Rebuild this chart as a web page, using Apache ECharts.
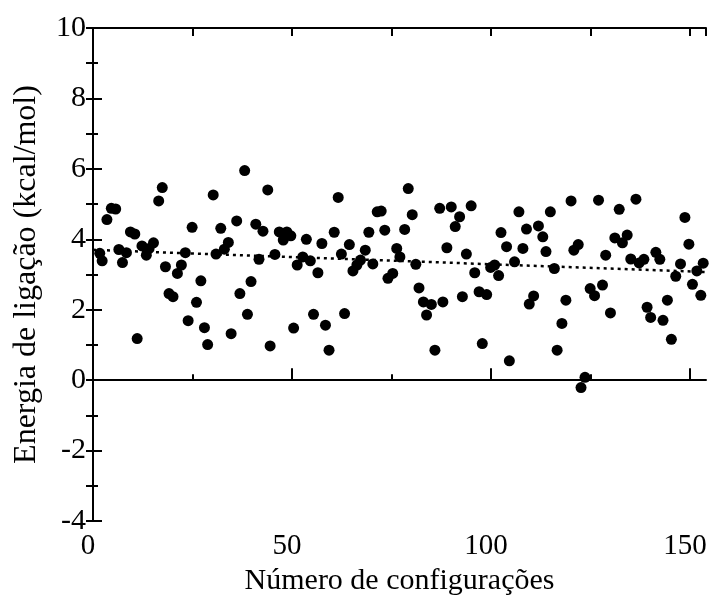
<!DOCTYPE html>
<html>
<head>
<meta charset="utf-8">
<script src="https://cdn.jsdelivr.net/npm/echarts@6/dist/echarts.min.js"></script>
<style>html,body{margin:0;padding:0;background:#fff;}#c{width:710px;height:598px;}</style>
</head>
<body>
<div id="c"></div>
<script>
// Data
const configX = [1.7,2.3,3.5,4.6,5.7,6.5,7.4,8.4,9.4,10.5,11.1,12.3,13.4,14.1,15.2,16.5,17.4,18.2,19.1,20.1,21.2,22.2,23.2,23.9,24.9,26.0,27.1,28.0,28.8,30.2,30.9,32.1,33.0,34.0,34.7,36.1,36.9,38.1,38.8,39.7,40.9,41.7,42.7,43.9,44.5,45.7,46.8,47.8,48.7,49.7,50.4,51.3,52.7,53.6,54.6,55.4,56.5,57.5,58.4,59.3,60.6,61.6,62.4,63.2,64.4,65.3,66.3,67.2,68.4,69.3,70.3,71.4,72.4,73.3,74.1,75.3,76.3,77.1,78.3,79.2,80.2,81.1,81.9,83.0,83.8,85.0,85.9,87.1,87.9,88.9,90.0,91.0,92.1,92.8,93.8,95.0,95.9,97.0,97.8,98.9,99.9,100.9,101.9,102.5,103.9,104.6,105.9,107.0,108.0,108.9,109.6,110.7,111.9,113.0,113.8,114.9,115.9,116.6,117.8,118.8,120.1,120.8,121.9,122.6,123.6,124.9,126.0,127.0,128.0,128.8,130.0,131.1,132.2,133.0,134.2,135.1,136.4,137.2,138.4,139.2,140.1,141.4,142.4,143.2,144.3,145.3,146.4,147.6,148.7,149.7,150.6,151.7,152.7,153.3];
const energy = [3.60,3.39,4.56,4.88,4.86,3.71,3.34,3.62,4.21,4.15,1.18,3.81,3.55,3.74,3.90,5.09,5.47,3.22,2.46,2.37,3.03,3.27,3.62,1.69,4.34,2.21,2.82,1.49,1.01,5.26,3.58,4.31,3.72,3.91,1.32,4.52,2.46,5.95,1.87,2.80,4.43,3.43,4.23,5.40,0.97,3.57,4.21,3.98,4.21,4.10,1.48,3.27,3.50,4.00,3.39,1.87,3.05,3.88,1.56,0.85,4.20,5.19,3.58,1.89,3.85,3.10,3.27,3.41,3.69,4.20,3.30,4.78,4.80,4.26,2.89,3.03,3.74,3.50,4.28,5.44,4.70,3.29,2.62,2.22,1.85,2.15,0.85,4.88,2.22,3.76,4.92,4.36,4.64,2.37,3.58,4.95,3.05,2.51,1.04,2.43,3.20,3.27,2.97,4.19,3.79,0.55,3.36,4.78,3.74,4.29,2.16,2.39,4.38,4.07,3.65,4.78,3.17,0.85,1.61,2.27,5.09,3.69,3.85,-0.21,0.08,2.60,2.40,5.11,2.70,3.55,1.91,4.04,4.85,3.90,4.12,3.44,5.14,3.33,3.43,2.07,1.78,3.63,3.43,1.70,2.27,1.16,2.95,3.30,4.62,3.86,2.72,3.10,2.41,3.32];
const trendX = [0, 154];
const trendY = [3.70, 3.07];
const xTickLabels = [0, 50, 100, 150];
const xMinorTicks = [25, 75, 125];
const xMin = 0, xMax = 154;
const yMin = -4, yMax = 10;

const font = "'Liberation Serif','Times New Roman',serif";
const points = configX.map((x, i) => [x, energy[i]]);
const trend = trendX.map((x, i) => [x, trendY[i]]);
const black = '#000';

const chart = echarts.init(document.getElementById('c'), null, {renderer: 'canvas'});
chart.setOption({
  backgroundColor: '#fff',
  animation: false,
  grid: {left: 93, right: 4, top: 28, bottom: 77, containLabel: false, outerBoundsMode: 'none'},
  xAxis: [
    {
      type: 'value', position: 'bottom', min: xMin, max: xMax,
      axisLine: {show: true, lineStyle: {color: black, width: 2}},
      axisTick: {show: true, inside: true, length: 12, lineStyle: {color: black, width: 2}, customValues: xTickLabels},
      axisLabel: {color: black, fontFamily: font, fontSize: 29, margin: 11, padding: [0, 10, 0, 0], customValues: xTickLabels},
      splitLine: {show: false},
      name: 'Número de configurações', nameLocation: 'middle', nameGap: 44,
      nameTextStyle: {color: black, fontFamily: font, fontSize: 30}
    },
    {
      type: 'value', position: 'bottom', min: xMin, max: xMax,
      axisLine: {show: false},
      axisTick: {show: true, inside: true, length: 6, lineStyle: {color: black, width: 2}, customValues: xMinorTicks},
      axisLabel: {show: false},
      splitLine: {show: false}
    },
    {
      type: 'value', position: 'top', min: xMin, max: xMax, interval: 25,
      axisLine: {show: true, lineStyle: {color: black, width: 2}},
      axisTick: {show: true, inside: true, length: 8, lineStyle: {color: black, width: 2}},
      axisLabel: {show: false},
      splitLine: {show: false}
    }
  ],
  yAxis: [
    {
      type: 'value', position: 'left', min: yMin, max: yMax, interval: 2,
      axisLine: {show: true, lineStyle: {color: black, width: 2}},
      axisTick: {show: true, inside: true, length: 9, lineStyle: {color: black, width: 2}},
      minorTick: {show: true, splitNumber: 2, length: 5, lineStyle: {color: black, width: 2}},
      axisLabel: {color: black, fontFamily: font, fontSize: 30, margin: 7},
      splitLine: {show: false}, minorSplitLine: {show: false},
      name: 'Energia de ligação (kcal/mol)', nameLocation: 'middle', nameGap: 50,
      nameTextStyle: {color: black, fontFamily: font, fontSize: 32}
    },
    {
      type: 'value', position: 'right', min: yMin, max: yMax, interval: 1,
      axisLine: {show: true, lineStyle: {color: black, width: 2}},
      axisTick: {show: true, inside: true, length: 7, lineStyle: {color: black, width: 2}},
      axisLabel: {show: false},
      splitLine: {show: false}
    }
  ],
  series: [
    {
      type: 'line', xAxisIndex: 0, yAxisIndex: 0, data: trend,
      symbol: 'none', silent: true,
      lineStyle: {color: black, width: 2.5, type: [3, 4]}
    },
    {
      type: 'scatter', xAxisIndex: 0, yAxisIndex: 0, data: points,
      symbol: 'circle', symbolSize: 11,
      itemStyle: {color: black, opacity: 1}
    }
  ]
});
</script>
</body>
</html>
